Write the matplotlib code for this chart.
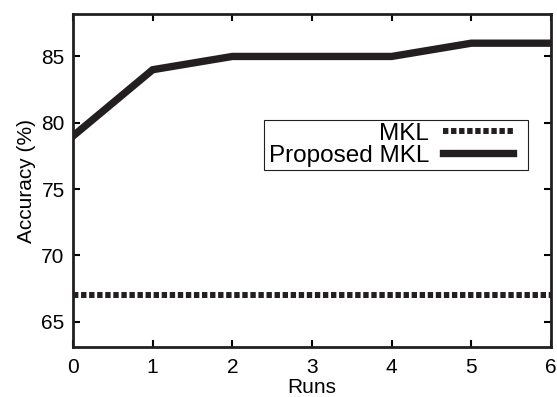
import matplotlib.pyplot as plt
from matplotlib.patches import Rectangle

plt.rcParams['font.family'] = ['Liberation Sans', 'DejaVu Sans']

runs = [0, 1, 2, 3, 4, 5, 6]
mkl = [67, 67, 67, 67, 67, 67, 67]
proposed = [79, 84, 85, 85, 85, 86, 86]

fig = plt.figure(figsize=(5.57, 3.97), dpi=100)
ax = fig.add_axes([73 / 557, 1 - 347 / 397, 478 / 557, 333 / 397])

ax.plot(runs, mkl, color='#231f20', lw=4.3, linestyle=(0, (0.9, 0.45)), label='MKL')
ax.plot(runs, proposed, color='#231f20', lw=5.3, solid_joinstyle='miter', label='Proposed MKL')

ax.set_xlim(0, 6)
ax.set_ylim(63.1, 88.2)
ax.set_xticks(runs)
ax.set_yticks([65, 70, 75, 80, 85])
ax.tick_params(direction='in', length=5, width=1.5, labelsize=15, top=True, right=True)
ax.tick_params(axis='x', pad=8)
ax.tick_params(axis='y', pad=6)
for s in ax.spines.values():
    s.set_linewidth(2)
    s.set_color('#231f20')

ax.set_xlabel('Runs', fontsize=15, labelpad=0.5)
ax.set_ylabel('Accuracy (%)', fontsize=15, labelpad=4)

leg = ax.legend(loc='center right', bbox_to_anchor=(0.9205, 0.607), markerfirst=False,
                fontsize=17.5, frameon=False, handlelength=2.9, borderpad=0.0,
                labelspacing=0.0, handletextpad=0.55, borderaxespad=0)
for t in leg.get_texts():
    t.set_ha('right')

# frame drawn by hand: the original has more room right of the handles
fig.canvas.draw()
bb = leg.get_window_extent()
box = Rectangle((bb.x0 - 5, bb.y0 - 3), bb.width + 20, bb.height + 6,
                transform=None, fill=False, lw=0.8, ec='#231f20', zorder=5)
fig.add_artist(box)

fig.savefig('out.png', dpi=100)
